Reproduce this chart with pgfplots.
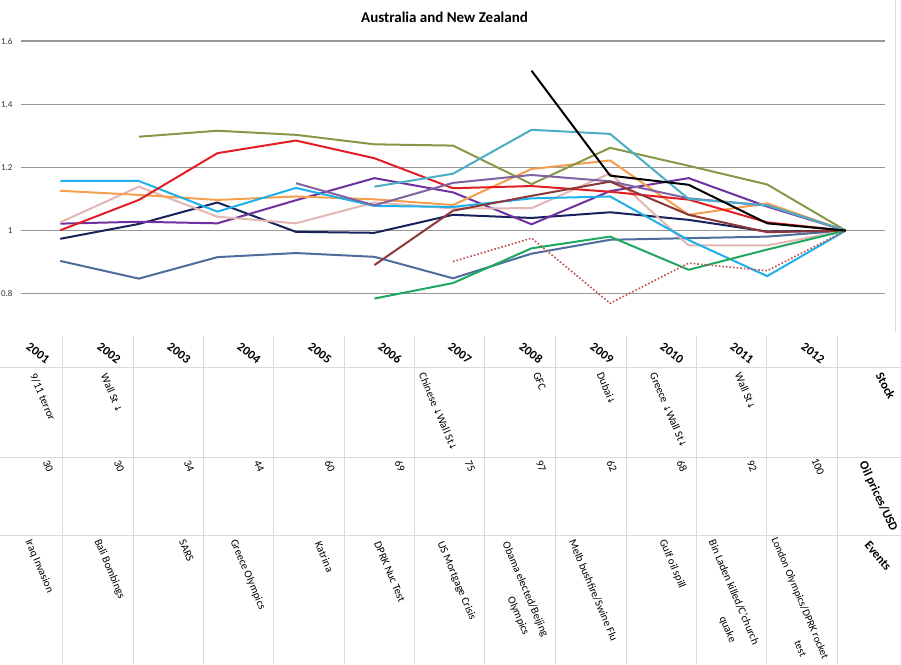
\documentclass[border=0pt]{standalone}
\usepackage{fontspec}
\setmainfont{Carlito}
\newfontfamily\dejavu{DejaVu Sans}
\usepackage{pgfplots}
\pgfplotsset{compat=1.18}

\definecolor{cOlive}{RGB}{134,152,72}
\definecolor{cRed}{RGB}{226,30,36}
\definecolor{cCyan}{RGB}{30,176,232}
\definecolor{cOrange}{RGB}{245,158,78}
\definecolor{cPink}{RGB}{226,182,180}
\definecolor{cPurple}{RGB}{112,48,160}
\definecolor{cNavy}{RGB}{24,34,90}
\definecolor{cSteel}{RGB}{78,108,156}
\definecolor{cLav}{RGB}{128,100,162}
\definecolor{cTeal}{RGB}{75,172,198}
\definecolor{cBrown}{RGB}{140,56,56}
\definecolor{cGreen}{RGB}{30,168,96}
\definecolor{cDot}{RGB}{192,80,77}
\definecolor{gridgray}{RGB}{150,150,150}
\definecolor{tablegray}{RGB}{218,218,218}

\newcommand\dn{{\dejavu\fontsize{9}{10}\selectfont ↓}}

\begin{document}
\begin{tikzpicture}
\path[use as bounding box] (0,0) rectangle (901pt,664pt);

\begin{axis}[
  at={(21pt,338.6pt)}, anchor=south west,
  scale only axis, width=864pt, height=284.4pt,
  xmin=0.5, xmax=11.5, ymin=0.7, ymax=1.6,
  xtick=\empty, ytick={0.8,1,1.2,1.4,1.6},
  axis line style={draw=none},
  major tick length=0pt,
  ymajorgrids, grid style={color=gridgray, line width=1.3pt},
  yticklabel style={font=\fontsize{9}{10}\selectfont, text=black!80, anchor=east, xshift=-5pt},
  /pgf/number format/assume math mode=true,
  every axis plot/.append style={line width=2pt, line join=round, mark=none},
]
% steel blue
\addplot[cSteel] coordinates {(1,0.904) (2,0.848) (3,0.916) (4,0.929) (5,0.917) (6,0.849) (7,0.927) (8,0.971) (9,0.976) (10,0.981) (11,1.0)};
% navy
\addplot[cNavy] coordinates {(1,0.974) (2,1.021) (3,1.089) (4,0.996) (5,0.993) (6,1.05) (7,1.04) (8,1.058) (9,1.034) (10,0.997) (11,1.0)};
% purple
\addplot[cPurple] coordinates {(1,1.022) (2,1.028) (3,1.023) (4,1.096) (5,1.166) (6,1.121) (7,1.02) (8,1.125) (9,1.166) (10,1.076) (11,1.0)};
% pink
\addplot[cPink] coordinates {(1,1.026) (2,1.139) (3,1.044) (4,1.023) (5,1.089) (6,1.07) (7,1.071) (8,1.181) (9,0.953) (10,0.953) (11,1.0)};
% orange
\addplot[cOrange] coordinates {(1,1.126) (2,1.113) (3,1.097) (4,1.108) (5,1.099) (6,1.081) (7,1.195) (8,1.222) (9,1.05) (10,1.086) (11,1.0)};
% cyan
\addplot[cCyan] coordinates {(1,1.157) (2,1.157) (3,1.06) (4,1.135) (5,1.078) (6,1.075) (7,1.102) (8,1.108) (9,0.97) (10,0.856) (11,1.0)};
% red
\addplot[cRed] coordinates {(1,1.001) (2,1.097) (3,1.245) (4,1.285) (5,1.229) (6,1.134) (7,1.141) (8,1.123) (9,1.098) (10,1.026) (11,1.0)};
% olive
\addplot[cOlive] coordinates {(2,1.297) (3,1.316) (4,1.303) (5,1.273) (6,1.269) (7,1.147) (8,1.262) (9,1.205) (10,1.146) (11,1.0)};
% lavender
\addplot[cLav] coordinates {(4,1.15) (5,1.08) (6,1.151) (7,1.176) (8,1.156) (9,1.102) (10,1.079) (11,1.0)};
% teal
\addplot[cTeal] coordinates {(5,1.139) (6,1.18) (7,1.319) (8,1.306) (9,1.1) (10,1.08) (11,1.0)};
% brown
\addplot[cBrown] coordinates {(5,0.891) (6,1.063) (7,1.11) (8,1.155) (9,1.05) (10,0.995) (11,1.0)};
% green
\addplot[cGreen] coordinates {(5,0.785) (6,0.834) (7,0.944) (8,0.981) (9,0.876) (10,0.94) (11,1.0)};
% dotted
\addplot[cDot, line width=1.6pt, dotted] coordinates {(6,0.902) (7,0.976) (8,0.77) (9,0.897) (10,0.873) (11,1.0)};
% black
\addplot[black] coordinates {(7,1.506) (8,1.174) (9,1.145) (10,1.023) (11,1.0)};
\end{axis}

\node[font=\bfseries\fontsize{15}{18}\selectfont] at (444.5pt,647pt) {Australia and New Zealand};

\begin{scope}[x=1pt,y=-1pt,yshift=664pt]
  % chart border at right
  \draw[tablegray, line width=1pt] (895,0) -- (895,332);
  % sheet grid
  \foreach \x in {62,133,203,273,344,414,484,555,626,696,766,837}
    \draw[tablegray, line width=0.9pt] (\x,336) -- (\x,664);
  \foreach \y in {367,457,535}
    \draw[tablegray, line width=0.9pt] (0,\y) -- (901,\y);

  % years
  \foreach \c/\yr in {62/2001,133/2002,203/2003,273/2004,344/2005,414/2006,484/2007,555/2008,626/2009,696/2010,766/2011,837/2012}
    \node[rotate=-37, font=\bfseries\fontsize{12.5}{14}\selectfont] at (\c-24,353) {\yr};

  \tikzset{ev/.style={rotate=-67, anchor=west, inner sep=0pt, font=\fontsize{11}{12}\selectfont}}
  % stock row
  \node[ev] at (33,374) {9/11 terror};
  \node[ev] at (104,374) {Wall St \dn};
  \node[ev] at (422,373) {Chinese \dn Wall St\dn};
  \node[ev] at (536,373) {GFC};
  \node[ev] at (600,373) {Dubai\dn};
  \node[ev] at (653,373) {Greece \dn Wall St\dn};
  \node[ev] at (738,373) {Wall St\dn};
  \node[rotate=-62, anchor=west, inner sep=0pt, font=\bfseries\fontsize{12.5}{14}\selectfont] at (879,373) {Stock};

  % oil row
  \foreach \c/\v in {62/30,133/30,203/34,273/44,344/60,414/69,484/75,555/97,626/62,696/68,766/92}
    \node[rotate=-67, inner sep=0pt, font=\fontsize{11}{12}\selectfont] at (\c-14,466) {\v};
  \node[rotate=-67, inner sep=0pt, font=\fontsize{11}{12}\selectfont] at (818,467) {100};
  \node[rotate=-65, anchor=west, inner sep=0pt, font=\bfseries\fontsize{12.5}{14}\selectfont] at (862,462) {Oil prices/USD};

  % events row
  \node[ev] at (28,540) {Iraq Invasion};
  \node[ev] at (97,540) {Bali Bombings};
  \node[ev] at (182,540) {SARS};
  \node[ev] at (233,540) {Greece Olympics};
  \node[ev] at (318,542) {Katrina};
  \node[ev] at (377,542) {DPRK Nuc Test};
  \node[ev] at (440,542) {US Mortgage Crisis};
  \node[ev] at (505,542) {Obama elected/Beijing};
  \node[ev] at (510,597) {Olympics};
  \node[ev] at (572,540) {Melb bushfire/Swine Flu};
  \node[ev] at (662,540) {Gulf oil spill};
  \node[ev] at (712,540) {Bin Laden killed/C'church};
  \node[ev] at (722,617) {quake};
  \node[ev, font=\fontsize{10.6}{12}\selectfont] at (774,538) {London Olympics/DPRK rocket};
  \node[ev, font=\fontsize{10.6}{12}\selectfont] at (797,641) {test};
  \node[rotate=-50, anchor=west, inner sep=0pt, font=\bfseries\fontsize{12.5}{14}\selectfont] at (867,543) {Events};
\end{scope}
\end{tikzpicture}
\end{document}
